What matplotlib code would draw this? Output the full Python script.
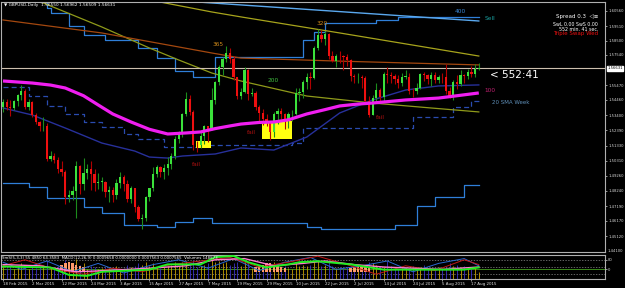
import matplotlib
matplotlib.use('Agg')
import matplotlib.pyplot as plt
import matplotlib.transforms as mtrans

plt.rcParams['font.family'] = ['DejaVu Sans']

# ---------------- data ----------------
dates = ['18 Feb 2015', '2 Mar 2015', '12 Mar 2015', '24 Mar 2015', '3 Apr 2015',
         '15 Apr 2015', '27 Apr 2015', '7 May 2015', '19 May 2015', '29 May 2015',
         '10 Jun 2015', '22 Jun 2015', '2 Jul 2015', '14 Jul 2015', '24 Jul 2015',
         '5 Aug 2015', '17 Aug 2015']
date_idx = [0, 8, 16, 24, 32, 40, 48, 56, 64, 72, 80, 88, 96, 104, 112, 120, 128]

opens = [1.5395, 1.5430, 1.5395, 1.5390, 1.5440, 1.5480, 1.5505, 1.5400,
         1.5435, 1.5340, 1.5295, 1.5265, 1.5265, 1.5040, 1.5065, 1.5035, 1.4975, 1.4955,
         1.4780, 1.4795, 1.4825, 1.4995, 1.4870, 1.4945, 1.4975, 1.4940, 1.4880, 1.4885,
         1.4885, 1.4815, 1.4830, 1.4795, 1.4880, 1.4920, 1.4870, 1.4765, 1.4840, 1.4715,
         1.4630, 1.4635, 1.4780, 1.4840, 1.4940, 1.4990, 1.4950, 1.4980, 1.5010, 1.5060,
         1.5180, 1.5220, 1.5350, 1.5450, 1.5365, 1.5140, 1.5135, 1.5200, 1.5265, 1.5250,
         1.5445, 1.5570, 1.5675, 1.5730, 1.5765, 1.5725, 1.5600, 1.5470, 1.5500, 1.5650,
         1.5490, 1.5495, 1.5395, 1.5355, 1.5315, 1.5285, 1.5225, 1.5350, 1.5370, 1.5350,
         1.5305, 1.5350, 1.5350, 1.5495, 1.5500, 1.5570, 1.5605, 1.5595, 1.5800, 1.5890,
         1.5865, 1.5900, 1.5750, 1.5710, 1.5750, 1.5745, 1.5740, 1.5720, 1.5610, 1.5600,
         1.5600, 1.5595, 1.5440, 1.5345, 1.5460, 1.5515, 1.5465, 1.5625, 1.5620, 1.5610,
         1.5590, 1.5565, 1.5605, 1.5605, 1.5510, 1.5505, 1.5530, 1.5625, 1.5615, 1.5590,
         1.5615, 1.5585, 1.5605, 1.5600, 1.5505, 1.5465, 1.5570, 1.5555, 1.5615, 1.5610,
         1.5640, 1.5625, 1.5655]
highs = [1.5455, 1.5450, 1.5445, 1.5445, 1.5490, 1.5550, 1.5520, 1.5450,
         1.5440, 1.5360, 1.5305, 1.5330, 1.5285, 1.5095, 1.5080, 1.5055, 1.5030, 1.4965,
         1.4830, 1.4860, 1.5025, 1.5000, 1.5050, 1.5010, 1.5025, 1.4970, 1.4945, 1.4920,
         1.4890, 1.4855, 1.4850, 1.4905, 1.4950, 1.4930, 1.4900, 1.4855, 1.4840, 1.4725,
         1.4665, 1.4790, 1.4845, 1.4990, 1.5000, 1.4995, 1.5005, 1.5055, 1.5080, 1.5200,
         1.5235, 1.5355, 1.5500, 1.5480, 1.5375, 1.5165, 1.5235, 1.5275, 1.5270, 1.5525,
         1.5575, 1.5685, 1.5740, 1.5815, 1.5800, 1.5745, 1.5605, 1.5525, 1.5670, 1.5655,
         1.5525, 1.5510, 1.5410, 1.5385, 1.5350, 1.5295, 1.5365, 1.5390, 1.5390, 1.5360,
         1.5365, 1.5375, 1.5530, 1.5525, 1.5585, 1.5630, 1.5640, 1.5815, 1.5930, 1.5925,
         1.5920, 1.5905, 1.5780, 1.5760, 1.5780, 1.5755, 1.5760, 1.5730, 1.5625, 1.5630,
         1.5615, 1.5610, 1.5470, 1.5480, 1.5560, 1.5525, 1.5640, 1.5675, 1.5640, 1.5625,
         1.5615, 1.5630, 1.5650, 1.5630, 1.5530, 1.5565, 1.5630, 1.5635, 1.5625, 1.5640,
         1.5635, 1.5620, 1.5630, 1.5690, 1.5535, 1.5580, 1.5615, 1.5650, 1.5625, 1.5655,
         1.5680, 1.5690, 1.5696]
lows = [1.5365, 1.5375, 1.5335, 1.5375, 1.5405, 1.5445, 1.5385, 1.5375,
        1.5330, 1.5280, 1.5230, 1.5235, 1.5025, 1.5030, 1.5015, 1.4945, 1.4925, 1.4730,
        1.4750, 1.4760, 1.4635, 1.4800, 1.4830, 1.4905, 1.4830, 1.4825, 1.4835, 1.4820,
        1.4780, 1.4750, 1.4745, 1.4770, 1.4840, 1.4825, 1.4750, 1.4740, 1.4680, 1.4620,
        1.4565, 1.4620, 1.4755, 1.4825, 1.4920, 1.4915, 1.4905, 1.4935, 1.4970, 1.5045,
        1.5150, 1.5190, 1.5335, 1.5340, 1.5105, 1.5090, 1.5120, 1.5145, 1.5160, 1.5240,
        1.5420, 1.5550, 1.5620, 1.5705, 1.5700, 1.5580, 1.5455, 1.5450, 1.5495, 1.5445,
        1.5470, 1.5375, 1.5300, 1.5275, 1.5270, 1.5170, 1.5190, 1.5280, 1.5315, 1.5250,
        1.5255, 1.5305, 1.5340, 1.5440, 1.5460, 1.5520, 1.5520, 1.5590, 1.5790, 1.5845,
        1.5825, 1.5725, 1.5705, 1.5675, 1.5700, 1.5650, 1.5680, 1.5575, 1.5560, 1.5565,
        1.5525, 1.5420, 1.5330, 1.5340, 1.5430, 1.5440, 1.5440, 1.5565, 1.5565, 1.5555,
        1.5525, 1.5540, 1.5590, 1.5490, 1.5465, 1.5490, 1.5520, 1.5575, 1.5555, 1.5545,
        1.5560, 1.5565, 1.5560, 1.5490, 1.5460, 1.5445, 1.5520, 1.5540, 1.5560, 1.5590,
        1.5605, 1.5600, 1.5651]
closes = [1.5430, 1.5395, 1.5390, 1.5440, 1.5480, 1.5505, 1.5400, 1.5435,
          1.5340, 1.5295, 1.5265, 1.5265, 1.5040, 1.5065, 1.5035, 1.4975, 1.4955, 1.4780,
          1.4795, 1.4825, 1.4995, 1.4870, 1.4945, 1.4975, 1.4940, 1.4880, 1.4885, 1.4885,
          1.4815, 1.4830, 1.4795, 1.4880, 1.4920, 1.4870, 1.4765, 1.4840, 1.4715, 1.4630,
          1.4635, 1.4780, 1.4840, 1.4940, 1.4990, 1.4950, 1.4980, 1.5010, 1.5060, 1.5180,
          1.5220, 1.5350, 1.5450, 1.5365, 1.5140, 1.5135, 1.5200, 1.5265, 1.5250, 1.5445,
          1.5570, 1.5675, 1.5730, 1.5765, 1.5725, 1.5600, 1.5470, 1.5500, 1.5650, 1.5490,
          1.5495, 1.5395, 1.5355, 1.5315, 1.5285, 1.5225, 1.5350, 1.5370, 1.5350, 1.5305,
          1.5350, 1.5350, 1.5495, 1.5500, 1.5570, 1.5605, 1.5595, 1.5800, 1.5890, 1.5865,
          1.5900, 1.5750, 1.5710, 1.5750, 1.5745, 1.5740, 1.5720, 1.5610, 1.5600, 1.5600,
          1.5595, 1.5440, 1.5345, 1.5460, 1.5515, 1.5465, 1.5625, 1.5620, 1.5610, 1.5590,
          1.5565, 1.5605, 1.5605, 1.5510, 1.5505, 1.5530, 1.5625, 1.5615, 1.5590, 1.5615,
          1.5585, 1.5605, 1.5600, 1.5505, 1.5465, 1.5570, 1.5555, 1.5615, 1.5610, 1.5640,
          1.5625, 1.5655, 1.5663]

# indicator lines: (bar index, price)
ma_mag_idx = [0, 8, 13, 17, 22, 26, 30, 35, 40, 45, 50, 54, 58, 62, 65, 70, 74, 78, 83,
              88, 92, 97, 101, 110, 119, 130]
ma_mag_val = [1.5576, 1.5562, 1.5548, 1.5528, 1.5475, 1.5412, 1.5350, 1.5295, 1.5245,
              1.5213, 1.5220, 1.5227, 1.5250, 1.5268, 1.5281, 1.5292, 1.5295, 1.5310,
              1.5350, 1.5380, 1.5405, 1.5418, 1.5425, 1.5446, 1.5459, 1.5494]
ma_navy_idx = [0, 8, 17, 27, 36, 40, 45, 49, 58, 65, 74, 83, 92, 101, 110, 119, 130]
ma_navy_val = [1.5391, 1.5343, 1.5254, 1.5151, 1.5096, 1.5055, 1.5048, 1.5062, 1.5076,
               1.5117, 1.5103, 1.5192, 1.5357, 1.5446, 1.5514, 1.5542, 1.5549]
sma_week_idx = [0, 7, 12, 17, 22, 27, 33, 37, 44, 54, 79, 82, 107, 112, 123, 128, 130]
sma_week_val = [1.5535, 1.5473, 1.5405, 1.5350, 1.5295, 1.5261, 1.5213, 1.5179, 1.5124,
                1.5138, 1.5151, 1.5254, 1.5254, 1.5329, 1.5398, 1.5439, 1.5439]
band_low_idx = [0, 7, 12, 22, 27, 33, 42, 47, 52, 57, 83, 87, 107, 113, 118, 126, 130]
band_low_val = [1.4877, 1.4850, 1.4774, 1.4713, 1.4672, 1.4590, 1.4576, 1.4610, 1.4637,
                1.4603, 1.4576, 1.4562, 1.4590, 1.4720, 1.4781, 1.4864, 1.4864]
band_up_idx = [0, 12, 13, 18, 22, 28, 37, 42, 47, 52, 58, 82, 85, 88, 102, 108, 130]
band_up_val = [1.6200, 1.6076, 1.6042, 1.5953, 1.5891, 1.5857, 1.5802, 1.5733, 1.5644,
               1.5603, 1.5740, 1.5857, 1.5912, 1.5973, 1.5994, 1.6015, 1.6015]
ma200_idx = [0, 9, 27, 40, 48, 57, 65, 83, 101, 117, 130]
ma200_val = [1.6223, 1.6131, 1.5946, 1.5802, 1.5720, 1.5631, 1.5576, 1.5473, 1.5425,
             1.5391, 1.5364]
ma320_idx = [0, 40, 57, 65, 92, 130]
ma320_val = [1.6336, 1.6131, 1.6049, 1.6015, 1.5905, 1.5747]
ma365_idx = [0, 27, 57, 65, 92, 130]
ma365_val = [1.5994, 1.5905, 1.5768, 1.5733, 1.5712, 1.5686]
ma400_idx = [45, 65, 130]
ma400_val = [1.6131, 1.6097, 1.5987]
current_price = 1.56631

price_ticks = [1.60560, 1.59510, 1.58500, 1.57540, 1.55470, 1.54460, 1.53400, 1.52390,
               1.51330, 1.50310, 1.49260, 1.48240, 1.47190, 1.46170, 1.45120]

# lower panel oscillator lines (bar index, 0-100 level)
osc_green_idx = [0, 13, 18, 23, 27, 40, 45, 54, 58, 63, 67, 72, 78, 81, 86, 95, 104, 113, 126, 130]
osc_green_val = [52, 48, 17, 13, 30, 39, 61, 61, 91, 96, 70, 48, 61, 70, 74, 61, 39, 39, 39, 48]
osc_pink_idx = [0, 10, 20, 28, 40, 50, 58, 66, 74, 82, 88, 96, 104, 112, 120, 130]
osc_pink_val = [60, 55, 30, 35, 45, 55, 80, 85, 55, 65, 75, 60, 50, 45, 40, 50]
osc_red_idx = [0, 6, 14, 22, 30, 38, 46, 54, 62, 70, 78, 86, 94, 102, 110, 118, 126, 130]
osc_red_val = [55, 80, 40, 20, 45, 30, 60, 75, 90, 50, 70, 95, 60, 20, 55, 35, 80, 60]
osc_blue_idx = [0, 5, 12, 19, 26, 33, 41, 48, 56, 63, 70, 77, 84, 91, 98, 105, 112, 119, 126, 130]
osc_blue_val = [70, 40, 75, 30, 65, 25, 60, 80, 45, 85, 35, 70, 90, 40, 55, 75, 30, 65, 85, 55]
vol = [60, 45, 50, 40, 55, 65, 50, 40, 55, 45, 50, 60, 75, 45, 40, 55, 50, 80,
       45, 50, 85, 60, 65, 40, 55, 50, 40, 45, 50, 45, 40, 55, 35, 45, 60, 50, 55, 65,
       60, 70, 55, 65, 50, 45, 50, 55, 60, 70, 55, 70, 75, 60, 80, 50, 55, 60, 65, 85,
       70, 75, 65, 70, 60, 65, 70, 55, 75, 70, 45, 55, 60, 55, 50, 65, 70, 55, 50, 55,
       45, 40, 70, 55, 60, 55, 60, 80, 75, 55, 60, 70, 55, 45, 50, 45, 50, 55, 50, 45,
       40, 50, 70, 65, 60, 55, 50, 75, 55, 45, 40, 45, 50, 45, 55, 45, 50, 60, 45, 40,
       45, 50, 45, 50, 65, 55, 60, 50, 55, 45, 50, 45, 30]
hist_idx = [16, 17, 18, 19, 20, 21, 22, 69, 70, 71, 72, 73, 74, 75, 76, 77, 95, 96, 97, 98, 99, 100]
hist_val = [30, 35, 40, 35, 30, 25, 20, 20, 25, 30, 35, 35, 30, 25, 20, 15, 15, 20, 25, 30, 25, 20]

# ---------------- figure ----------------
W, H = 625, 288
fig = plt.figure(figsize=(W / 100, H / 100), dpi=100, facecolor='black')


def px_axes(x0, y0, x1, y1):
    return fig.add_axes([x0 / W, 1 - y1 / H, (x1 - x0) / W, (y1 - y0) / H])


X0 = 3.0      # pixel of bar 0
DX = 3.66     # pixels per bar
AX_L, AX_R = 1, 605
xl = ((AX_L - X0) / DX, (AX_R - X0) / DX)

ax = px_axes(AX_L, 2, AX_R, 252)
ax.set_facecolor('black')
ax.set_xlim(*xl)
p_top = 1.5754 + (55 - 2) * 0.000685
p_bot = 1.5754 - (252 - 55) * 0.000685
ax.set_ylim(p_bot, p_top)
for s in ax.spines.values():
    s.set_color('#b0b0b0')
    s.set_linewidth(0.8)

# lines behind candles
ax.plot(band_up_idx, band_up_val, drawstyle='steps-post', color='#2f7fd8', lw=0.9, zorder=2)
ax.plot(band_low_idx, band_low_val, drawstyle='steps-post', color='#2f7fd8', lw=0.9, zorder=2)
ax.plot(sma_week_idx, sma_week_val, drawstyle='steps-post', color='#2a4cb0', lw=0.9,
        ls=(0, (4, 2.5)), zorder=2)
ax.plot(ma_navy_idx, ma_navy_val, color='#27309a', lw=1.0, zorder=2)
ax.plot(ma200_idx, ma200_val, color='#8f9a1a', lw=0.9, zorder=2)
ax.plot(ma320_idx, ma320_val, color='#a7a41c', lw=0.9, zorder=2)
ax.plot(ma365_idx, ma365_val, color='#a4480f', lw=0.9, zorder=2)
ax.plot(ma400_idx, ma400_val, color='#5aa8ee', lw=1.0, zorder=2)
ax.axhline(current_price, color='#cdbfae', lw=0.8, zorder=2)

# yellow boxes
ax.fill_between([52.7, 56.8], 1.5117, 1.5165, color='#ffff10', lw=0, zorder=3)
ax.fill_between([70.8, 79.0], 1.5179, 1.5302, color='#ffff10', lw=0, zorder=3)

# candles
for i, (o, h, l, c) in enumerate(zip(opens, highs, lows, closes)):
    bull = c >= o
    wick = '#1c8c1c' if bull else '#b00000'
    body = '#3be23b' if bull else '#ee1010'
    ax.vlines(i, l, h, color=wick, lw=0.8, zorder=4)
    hgt = c - o if abs(c - o) > 0.0003 else 0.0003
    ax.bar(i, hgt, bottom=o, width=0.62, color=body, lw=0, zorder=5)

ax.plot(ma_mag_idx, ma_mag_val, color='#f01ef0', lw=2.3, zorder=6, solid_capstyle='butt')

# right price axis
ax.yaxis.tick_right()
ax.set_yticks(price_ticks)
ax.set_yticklabels(['%.5f' % p for p in price_ticks])
ax.tick_params(axis='y', colors='#b0b0b0', labelcolor='#d8d8d8', labelsize=2.7,
               length=1.5, width=0.6, pad=0.8)
ax.set_xticks([])

ax.text(1.004, current_price, '%.5f' % current_price,
        transform=mtrans.blended_transform_factory(ax.transAxes, ax.transData),
        fontsize=2.7, color='black', va='center', ha='left',
        bbox=dict(boxstyle='square,pad=0.12', fc='white', ec='white'), zorder=10, clip_on=False)

# texts
ax.text(0.2, 1.6095, '\u25BC GBPUSD,Daily  1.56550 1.56962 1.56509 1.56631', fontsize=3.1,
        color='white', va='center', ha='left')
ax.text(58.7, 1.5823, '365', fontsize=4.2, color='#d08a1a', ha='center', va='center')
ax.text(87.2, 1.5973, '320', fontsize=4.2, color='#d08a1a', ha='center', va='center')
ax.text(73.8, 1.5576, '200', fontsize=4.2, color='#40c040', ha='center', va='center')
ax.text(124.9, 1.6049, '400', fontsize=4.2, color='#3a88d8', ha='center', va='center')
ax.text(133.0, 1.6001, 'Sell', fontsize=4.2, color='#1aa0a0', ha='center', va='center')
ax.text(133.0, 1.5514, '100', fontsize=4.2, color='#c02070', ha='center', va='center')
ax.text(133.6, 1.5432, '20 SMA Week', fontsize=4.0, color='#5f8fb8', ha='left', va='center')
ax.text(52.7, 1.5007, 'fail', fontsize=4.2, color='#b01010', ha='center', va='center')
ax.text(67.8, 1.5220, 'fail', fontsize=4.2, color='#b01010', ha='center', va='center')
ax.text(103.0, 1.5329, 'fail', fontsize=4.2, color='#b01010', ha='center', va='center')
ax.text(133.0, 1.5617, '< 552:41', fontsize=7.5, color='white', ha='left', va='center')
ax.text(162.6, 1.6021, 'Spread 0.3  \u25C1\u2261', fontsize=4.0, color='white', ha='right', va='center')
ax.text(162.6, 1.5966, 'SwL 0.00 SwS 0.00', fontsize=3.4, color='white', ha='right', va='center')
ax.text(162.6, 1.5932, '552 min. 41 sec.', fontsize=3.4, color='white', ha='right', va='center')
ax.text(162.6, 1.5898, 'Triple Swap Wed', fontsize=4.0, color='#ee1010', ha='right', va='center')

# ---------------- lower panel ----------------
bx = px_axes(AX_L, 255, AX_R, 279)
bx.set_facecolor('black')
bx.set_xlim(*xl)
bx.set_ylim(0, 100)
for s in bx.spines.values():
    s.set_color('#b0b0b0')
    s.set_linewidth(0.8)
for lvl in (20, 50, 80):
    bx.axhline(lvl, color='#8a8a8a', lw=0.5, ls=(0, (2, 2)))
bx.axhline(40, color='#3a8a1a', lw=0.7)
for i, (o, c, v) in enumerate(zip(opens, closes, vol)):
    col = '#c8a000' if c >= o else '#3a30c8'
    bx.vlines(i, 0, v, color=col, lw=0.6, zorder=2)
bx.bar(hist_idx, hist_val, bottom=30, width=0.7, color='#ff9a6a', lw=0, zorder=3)
bx.plot(osc_blue_idx, osc_blue_val, color='#2a6ad0', lw=0.7, zorder=4)
bx.plot(osc_red_idx, osc_red_val, color='#c01818', lw=0.7, zorder=4)
bx.plot(osc_pink_idx, osc_pink_val, color='#ff7ad0', lw=1.0, zorder=5)
bx.plot(osc_green_idx, osc_green_val, color='#22ee22', lw=1.4, zorder=6)
bx.text(-0.3, 88, 'SmS(5,3,3) 55.4850 64.3583  MACD(12,26,9) 0.0009658 0.0000000 0.0007563 0.0007565  Volumes 148873',
        fontsize=2.9, color='white', va='center', ha='left', zorder=8)
bx.yaxis.tick_right()
bx.set_yticks([80, 40])
bx.set_yticklabels(['80', '0'])
bx.tick_params(axis='y', colors='#b0b0b0', labelcolor='#d8d8d8', labelsize=2.7, length=1.5, width=0.6, pad=0.8)
bx.text(1.004, 1.08, '1.44100', transform=bx.transAxes, fontsize=2.7, color='#d8d8d8', va='bottom', ha='left')
bx.set_xticks(date_idx)
bx.set_xticklabels(dates, ha='left')
bx.tick_params(axis='x', colors='#b0b0b0', labelcolor='#e0e0e0', labelsize=2.9, length=1.5, width=0.6, pad=1)

fig.savefig('out.png', dpi=100, facecolor='black')
